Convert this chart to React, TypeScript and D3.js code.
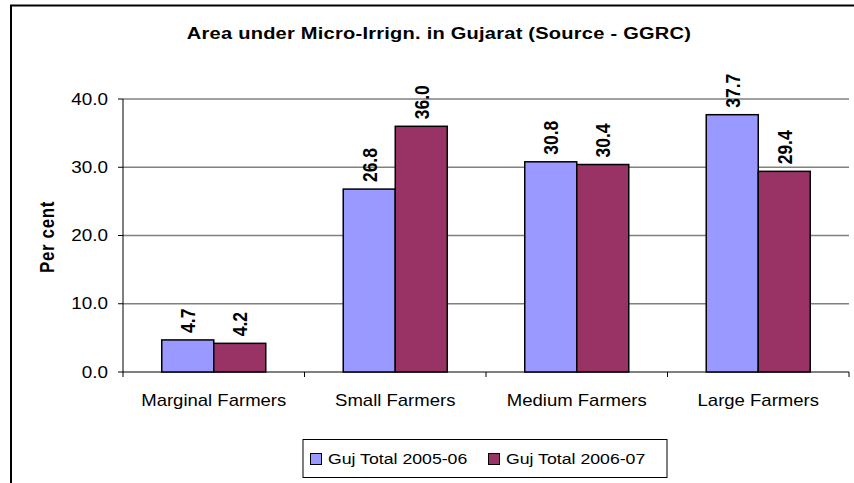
import React, { useEffect, useRef } from 'react';
import * as d3 from 'd3';

// chart data
const categories = ['Marginal Farmers', 'Small Farmers', 'Medium Farmers', 'Large Farmers'];
const seriesNames = ['Guj Total 2005-06', 'Guj Total 2006-07'];
const values2005 = [4.7, 26.8, 30.8, 37.7];
const values2006 = [4.2, 36.0, 30.4, 29.4];
const yTicks = [0, 10, 20, 30, 40];
const seriesColors = ['#9999FF', '#993366'];

const FONT = '"Liberation Sans", Arial, Helvetica, sans-serif';
// the source picture is stretched a little horizontally
const SX = 1.18;

const App = () => {
  const svgRef = useRef<SVGSVGElement>(null);

  useEffect(() => {
    const width = 854;
    const height = 483;
    const margin = { top: 99, right: 5, bottom: 111, left: 123 };

    const svg = d3.select(svgRef.current);
    svg.selectAll('*').remove();

    svg.append('rect').attr('width', width).attr('height', height).attr('fill', '#fff');

    // outer chart frame (right and bottom are off the picture)
    svg
      .append('rect')
      .attr('x', 11)
      .attr('y', 5.5)
      .attr('width', 870)
      .attr('height', 520)
      .attr('fill', 'none')
      .attr('stroke', '#000')
      .attr('stroke-width', 2);

    const x0 = d3
      .scaleBand<string>()
      .domain(categories)
      .range([margin.left, width - margin.right])
      .padding(0);

    const x1 = d3
      .scaleBand<string>()
      .domain(seriesNames)
      .range([0, x0.bandwidth()])
      .paddingInner(0)
      .paddingOuter(0.745);

    const y = d3
      .scaleLinear()
      .domain([0, 40])
      .range([height - margin.bottom, margin.top]);

    // helper for (slightly stretched) text
    const addText = (
      x: number,
      yy: number,
      str: string,
      opts: { size: number; weight?: string; anchor?: string; rotate?: boolean; dy?: string; spacing?: number }
    ) => {
      const g = svg
        .append('g')
        .attr('transform', `translate(${x},${yy}) scale(${SX},1)${opts.rotate ? ' rotate(-90)' : ''}`);
      g.append('text')
        .attr('font-family', FONT)
        .attr('font-size', opts.size)
        .attr('font-weight', opts.weight || 'normal')
        .attr('text-anchor', opts.anchor || 'start')
        .attr('dy', opts.dy || 0)
        .attr('letter-spacing', opts.spacing || 0)
        .attr('fill', '#000')
        .text(str);
    };

    // title
    addText(439, 39, 'Area under Micro-Irrign. in Gujarat (Source - GGRC)', {
      size: 17,
      weight: 'bold',
      anchor: 'middle',
      spacing: 0.2,
    });

    // gridlines
    svg
      .append('g')
      .selectAll('line')
      .data(yTicks.filter((d) => d > 0))
      .enter()
      .append('line')
      .attr('x1', margin.left)
      .attr('x2', width - margin.right)
      .attr('y1', (d) => y(d))
      .attr('y2', (d) => y(d))
      .attr('stroke', '#808080')
      .attr('stroke-width', 1.3);

    // y axis ticks + labels
    yTicks.forEach((t) => {
      svg
        .append('line')
        .attr('x1', margin.left - 5)
        .attr('x2', margin.left)
        .attr('y1', y(t))
        .attr('y2', y(t))
        .attr('stroke', '#000');
      addText(108, y(t), d3.format('.1f')(t), { size: 16, anchor: 'end', dy: '0.35em' });
    });

    // axes lines
    svg
      .append('line')
      .attr('x1', margin.left)
      .attr('x2', margin.left)
      .attr('y1', y(40))
      .attr('y2', y(0))
      .attr('stroke', '#000');
    svg
      .append('line')
      .attr('x1', margin.left)
      .attr('x2', width - margin.right)
      .attr('y1', y(0))
      .attr('y2', y(0))
      .attr('stroke', '#000');

    // x axis ticks at category boundaries
    const bounds = categories.map((c) => x0(c) as number).concat([width - margin.right]);
    svg
      .append('g')
      .selectAll('line')
      .data(bounds)
      .enter()
      .append('line')
      .attr('x1', (d) => d)
      .attr('x2', (d) => d)
      .attr('y1', y(0))
      .attr('y2', y(0) + 5)
      .attr('stroke', '#000');

    // bars
    const rows = categories.map((c, i) => ({
      category: c,
      vals: [values2005[i], values2006[i]],
    }));

    rows.forEach((row) => {
      row.vals.forEach((v, si) => {
        const bx = (x0(row.category) as number) + (x1(seriesNames[si]) as number);
        svg
          .append('rect')
          .attr('x', bx)
          .attr('y', y(v))
          .attr('width', x1.bandwidth())
          .attr('height', y(0) - y(v))
          .attr('fill', seriesColors[si])
          .attr('stroke', '#000')
          .attr('stroke-width', 1.5);
        addText(bx + x1.bandwidth() / 2, y(v) - 7, d3.format('.1f')(v), {
          size: 17.5,
          weight: 'bold',
          rotate: true,
          dy: '0.36em',
        });
      });
      addText((x0(row.category) as number) + x0.bandwidth() / 2, 406, row.category, {
        size: 15.7,
        anchor: 'middle',
      });
    });

    // y axis title
    addText(47, 237, 'Per cent', { size: 17, weight: 'bold', anchor: 'middle', rotate: true, dy: '0.35em', spacing: 0.6 });

    // legend
    const legend = svg.append('g');
    legend
      .append('rect')
      .attr('x', 303)
      .attr('y', 439.5)
      .attr('width', 364)
      .attr('height', 38)
      .attr('fill', '#fff')
      .attr('stroke', '#000');
    seriesNames.forEach((name, i) => {
      const lx = 310.5 + i * 178;
      legend
        .append('rect')
        .attr('x', lx)
        .attr('y', 453.5)
        .attr('width', 11)
        .attr('height', 11)
        .attr('fill', seriesColors[i])
        .attr('stroke', '#000');
      addText(lx + 17.5, 464, name, { size: 15 });
    });
  }, []);

  return (
    <svg
      ref={svgRef}
      width={854}
      height={483}
      style={{ position: 'absolute', left: 0, top: 0, display: 'block' }}
    />
  );
};

export default App;
